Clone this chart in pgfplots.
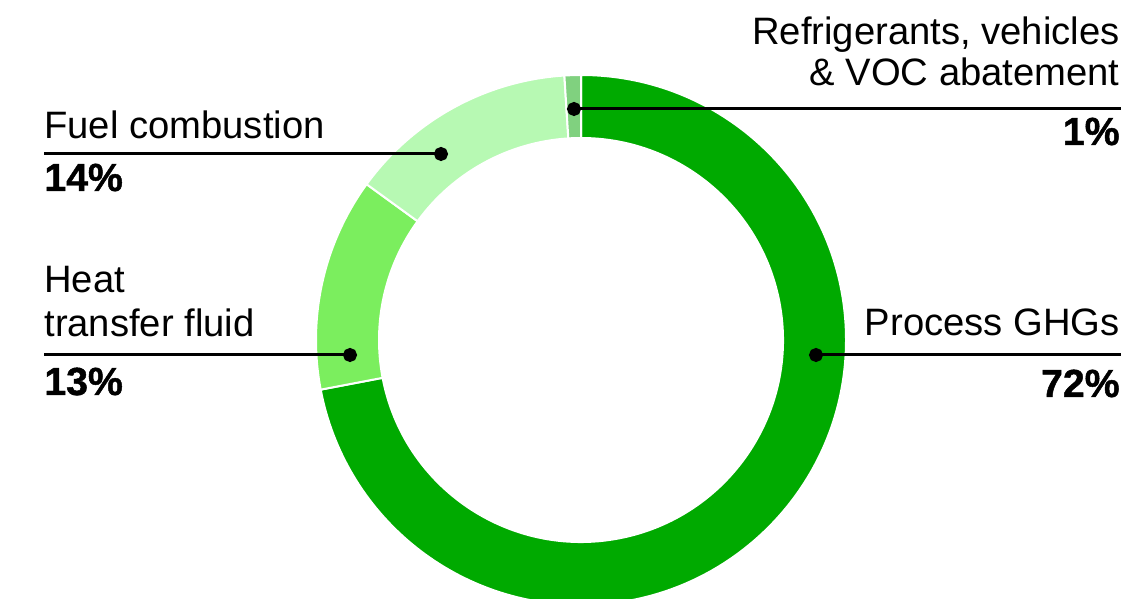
\documentclass[border=0pt]{standalone}
\usepackage{fontspec}
\setmainfont{Liberation Sans}
\newfontfamily\heavyfont[FakeBold=1.2]{Liberation Sans Bold}
\usepackage{pgfplots}
\pgfplotsset{compat=1.18}
\definecolor{cProc}{HTML}{00AA00}
\definecolor{cHeat}{HTML}{7BEE5E}
\definecolor{cFuel}{HTML}{B7F9B3}
\definecolor{cRef}{HTML}{80D17F}
% sector: start cumulative %, end cumulative %, colour (clockwise from 12 o'clock)
\newcommand{\sector}[3]{%
  \fill[#3, draw=white, line width=1pt, line join=miter]
   (axis cs:{581+265*cos(90-3.6*#1)},{259+265*sin(90-3.6*#1)})
   arc[start angle={90-3.6*#1}, end angle={90-3.6*#2}, radius=132.5pt]
   -- (axis cs:{581+202*cos(90-3.6*#2)},{259+202*sin(90-3.6*#2)})
   arc[start angle={90-3.6*#2}, end angle={90-3.6*#1}, radius=101pt]
   -- cycle;}
\newcommand{\lab}{\fontsize{19.1}{22}\selectfont}
\newcommand{\pct}{\heavyfont\fontsize{19.6}{22}\selectfont}
\begin{document}
\begin{tikzpicture}
\begin{axis}[name=ax, x=0.5pt, y=0.5pt, xmin=0, xmax=1129, ymin=0, ymax=599,
  hide axis, clip=true, anchor=south west, at={(0,0)}]
% values: Process GHGs 72, Heat transfer fluid 13, Fuel combustion 14, Refrigerants 1
\sector{0}{72}{cProc}
\sector{72}{85}{cHeat}
\sector{85}{99}{cFuel}
\sector{99}{100}{cRef}
% leader lines with dots
\addplot[black, line width=1.5pt, mark=*, mark size=2.75pt, mark indices={1}] coordinates {(574,490) (1121,490)};
\addplot[black, line width=1.5pt, mark=*, mark size=2.75pt, mark indices={1}] coordinates {(441,445) (44,445)};
\addplot[black, line width=1.5pt, mark=*, mark size=2.75pt, mark indices={1}] coordinates {(350,244) (44,244)};
\addplot[black, line width=1.5pt, mark=*, mark size=2.75pt, mark indices={1}] coordinates {(816,244) (1121,244)};
% labels
\node[anchor=base east, inner sep=0pt, font=\lab] at (axis cs:1120,554) {Refrigerants, vehicles};
\node[anchor=base east, inner sep=0pt, font=\lab] at (axis cs:1120,513) {\& VOC abatement};
\node[anchor=base east, inner sep=0pt, font=\pct] at (axis cs:1120,454) {1\%};
\node[anchor=base west, inner sep=0pt, font=\lab] at (axis cs:44,460) {Fuel combustion};
\node[anchor=base west, inner sep=0pt, font=\pct] at (axis cs:44,408) {14\%};
\node[anchor=base west, inner sep=0pt, font=\lab] at (axis cs:44,306) {Heat};
\node[anchor=base west, inner sep=0pt, font=\lab] at (axis cs:44,262) {transfer fluid};
\node[anchor=base west, inner sep=0pt, font=\pct] at (axis cs:44,204) {13\%};
\node[anchor=base east, inner sep=0pt, font=\lab] at (axis cs:1120,263) {Process GHGs};
\node[anchor=base east, inner sep=0pt, font=\pct] at (axis cs:1120,202) {72\%};
\end{axis}
\pgfresetboundingbox
\path (ax.south west) rectangle (ax.north east);
\end{tikzpicture}
\end{document}
